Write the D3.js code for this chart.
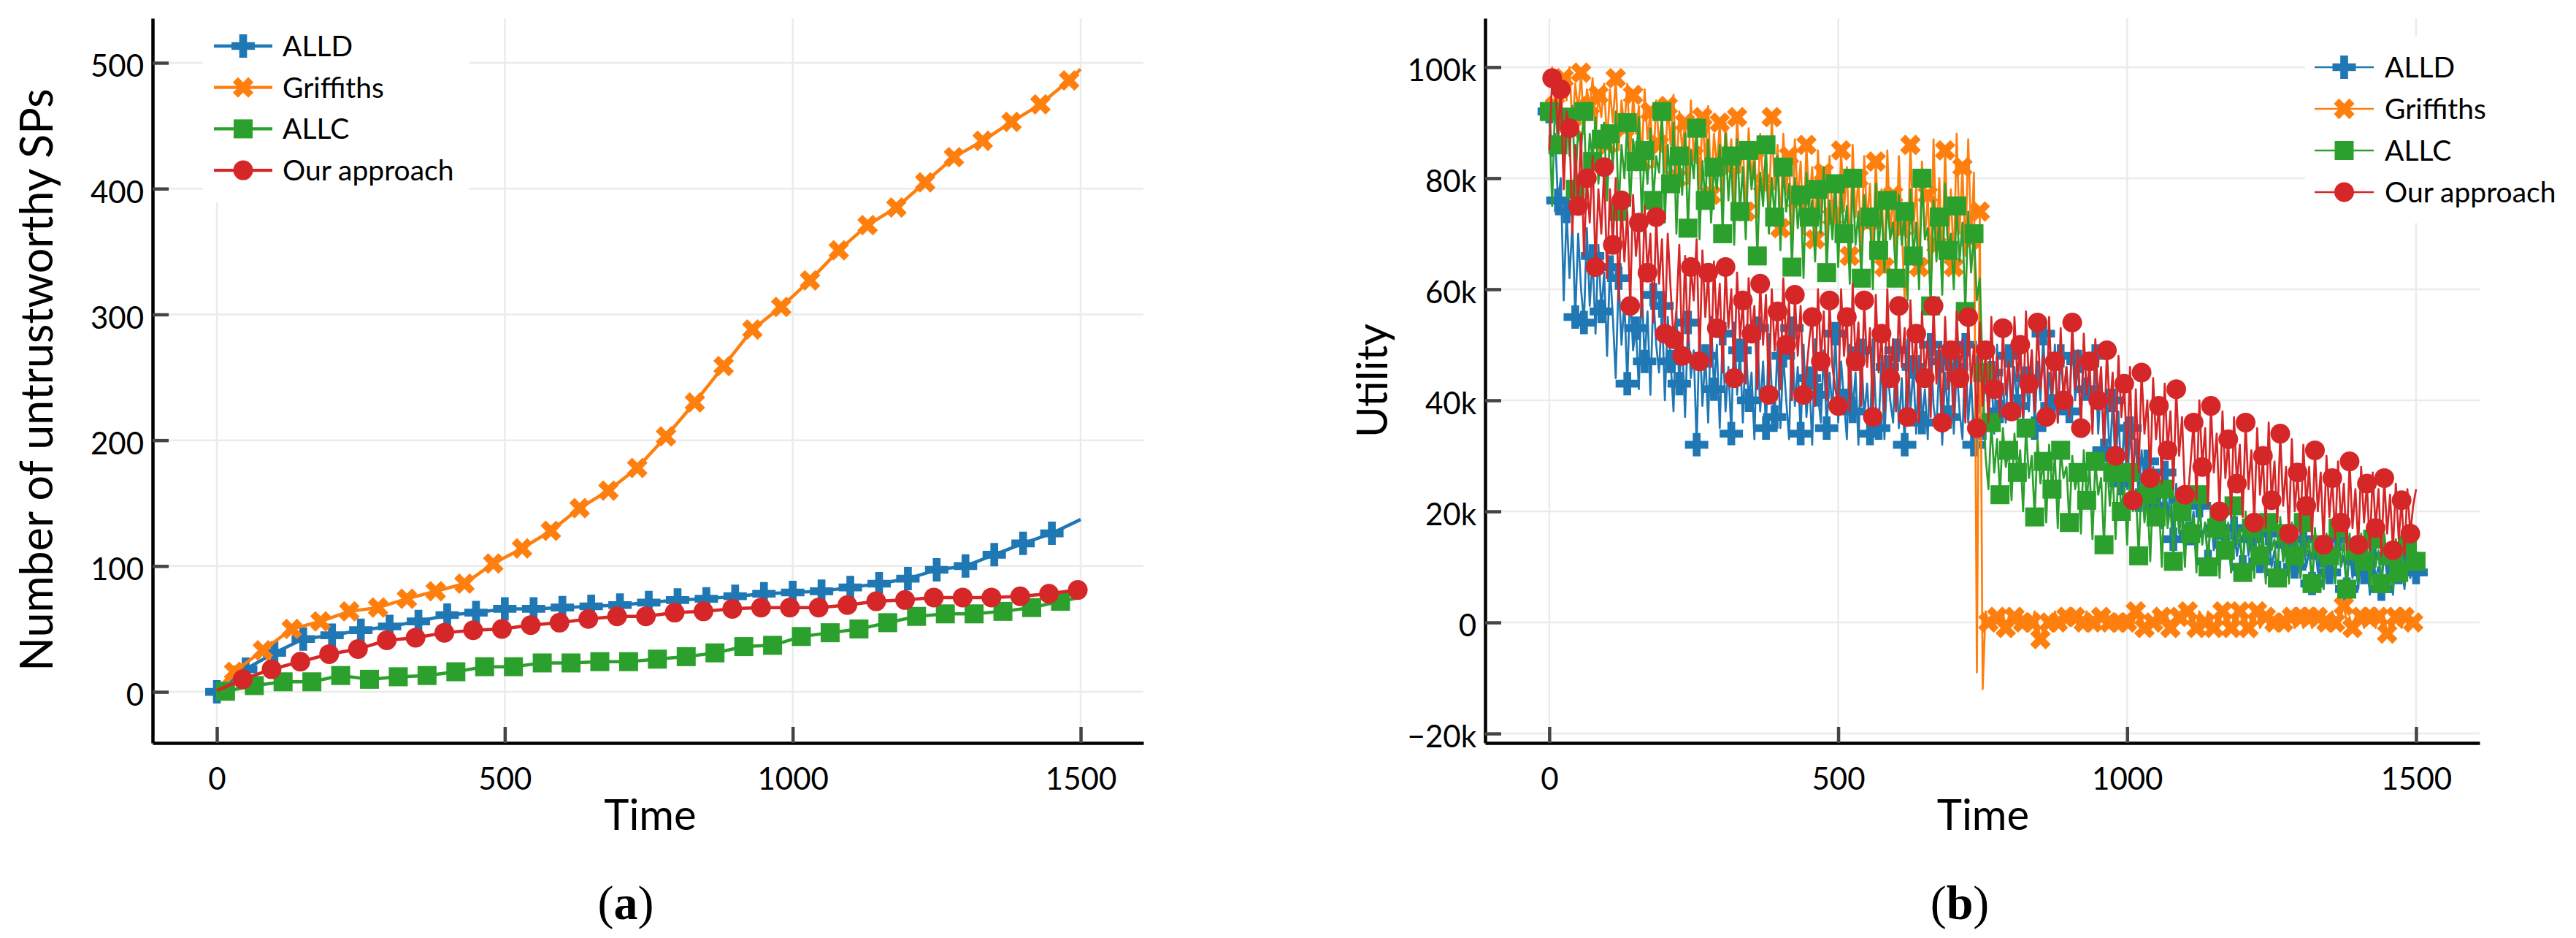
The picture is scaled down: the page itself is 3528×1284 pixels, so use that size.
<!DOCTYPE html>
<html>
<head>
<meta charset="utf-8">
<script src="https://cdn.jsdelivr.net/npm/d3@7"></script>
<style>
  body { margin: 0; background: #fff; }
  text { font-family: Lato, "Open Sans", sans-serif; fill: #000; }
  .caption { font-family: "Liberation Serif", "DejaVu Serif", serif; }
</style>
</head>
<body>
<svg id="chart" width="3528" height="1284"></svg>
<script>
const seriesNames = ["ALLD", "Griffiths", "ALLC", "Our approach"];
const seriesColors = ["#1f77b4", "#ff7f0e", "#2ca02c", "#d62728"];
const seriesShapes = ["cross", "x", "square", "circle"];

// (a) number of untrustworthy SPs, markers every 50 steps with an offset per series
const untrustOffset = [0, 30, 15, 45];
const untrustStart = [0, 2, 0, 1];
const untrustEnd = [137, 495, 75, 81];
const untrustAlld = [0, 18, 31, 42, 45, 49, 52, 56, 61, 63, 66, 66, 67, 68, 69, 71, 73, 74, 76, 78, 79, 80, 83, 86, 90, 97, 100, 109, 118, 126];
const untrustGriffiths = [16, 33, 50, 56, 64, 67, 74, 80, 86, 102, 114, 128, 146, 160, 178, 203, 230, 259, 288, 306, 327, 351, 371, 385, 405, 425, 438, 453, 467, 486];
const untrustAllc = [0.5, 5, 8, 8, 13, 10, 12, 13, 16, 20, 20, 23, 23, 24, 24, 26, 28, 31, 36, 37, 44, 47, 50, 55, 60, 62, 62, 64, 67, 72];
const untrustOurs = [10, 18, 24, 30, 34, 41, 43, 47, 49, 50, 53, 55, 58, 60, 60, 63, 64, 66, 67, 67, 67, 69, 72, 73, 75, 75, 75, 76, 78, 81];

// (b) utility in thousands, one value every 5 time steps (0..1500)
const utilityStep = 5;
const utilityMarkEvery = 3;
const utilityMarkOffset = [0, 2, 0, 1];
const utilityAlld = [
  92, 84, 88, 76, 80, 58, 74, 62, 72, 55, 70, 60, 54, 71, 57, 66, 52, 68, 56, 63,
  48, 64, 55, 44, 62, 50, 58, 43, 60, 49, 53, 42, 61, 47, 56, 41, 59, 50, 45, 57,
  40, 55, 47, 38, 56, 43, 51, 37, 54, 44, 49, 32, 53, 39, 48, 36, 55, 42, 50, 35,
  52, 38, 46, 34, 54, 41, 49, 36, 51, 40, 45, 33, 53, 38, 47, 35, 52, 42, 37, 50,
  35, 48, 40, 33, 53, 39, 46, 34, 50, 37, 44, 32, 51, 41, 36, 49, 35, 45, 38, 52,
  36, 47, 40, 33, 50, 38, 45, 32, 49, 37, 43, 34, 51, 39, 35, 48, 33, 46, 40, 36,
  49, 35, 44, 32, 51, 38, 46, 34, 48, 36, 42, 33, 50, 39, 35, 47, 32, 45, 37, 49,
  34, 46, 38, 33, 50, 36, 44, 32, 48, 39, 35, 47, 37, 45, 34, 50, 38, 43, 36, 48,
  37, 46, 39, 51, 36, 44, 38, 49, 35, 47, 40, 52, 37, 45, 39, 50, 36, 48, 41, 46,
  38, 51, 40, 47, 36, 49, 42, 45, 35, 48, 34, 44, 31, 42, 29, 40, 27, 38, 25, 36,
  24, 35, 27, 33, 22, 31, 25, 29, 19, 28, 21, 26, 17, 27, 19, 24, 15, 25, 17, 22,
  14, 23, 16, 20, 12, 21, 15, 18, 11, 19, 13, 17, 10, 18, 14, 16, 9, 17, 12, 15,
  10, 17, 12, 15, 9, 18, 11, 14, 8, 16, 10, 13, 9, 17, 11, 14, 8, 15, 10, 13,
  8, 15, 10, 13, 7, 14, 9, 12, 6, 14, 9, 11, 7, 15, 10, 12, 6, 13, 8, 11,
  6, 13, 9, 11, 5, 12, 8, 10, 6, 13, 8, 11, 5, 12, 9, 10, 6, 12, 8, 11,
  9
];
const utilityGriffiths = [
  97, 100, 93, 99, 90, 98, 94, 100, 89, 97, 92, 99, 88, 96, 93, 98, 87, 95, 91, 97,
  86, 96, 90, 98, 85, 94, 89, 97, 84, 95, 88, 93, 83, 96, 87, 92, 82, 94, 86, 91,
  81, 93, 86, 95, 80, 92, 85, 90, 79, 94, 84, 89, 78, 91, 83, 93, 77, 88, 82, 90,
  76, 90, 82, 87, 75, 91, 81, 86, 74, 89, 80, 85, 73, 88, 79, 84, 72, 91, 78, 86,
  71, 88, 77, 84, 67, 87, 76, 83, 70, 86, 75, 82, 69, 85, 74, 81, 68, 84, 73, 80,
  68, 85, 74, 82, 66, 86, 73, 80, 67, 84, 72, 79, 65, 83, 71, 78, 64, 85, 70, 77,
  66, 84, 71, 58, 65, 86, 70, 79, 64, 83, 69, 77, 63, 87, 68, 80, 65, 85, 67, 78,
  64, 88, 70, 82, 66, 87, 69, 81, -9, 74, -12, 2, 0, 1, -1, 1, 0, 2, -1, 1,
  0, 1, -1, 2, 0, 1, -1, 0, 2, 0, -3, -1, 1, 0, -1, 2, 0, 1, -1, 1,
  2, 0, 1, -1, 1, 0, 2, -1, 0, 1, -1, 1, 0, 2, 0, -1, 1, 0, 1, -1,
  0, 1, -1, 2, 0, 1, -1, -2, 1, 0, 2, -1, 1, 0, 1, -1, 0, 2, 1, 0,
  1, 2, 0, 1, -1, 2, 1, 0, 2, 1, -1, 1, 0, 2, 0, 1, -1, 1, 0, 2,
  0, 1, -1, 1, 0, 2, -1, 0, 1, -1, 1, 0, 1, -1, 0, 2, 0, 1, -1, 0,
  1, -1, 0, 1, -1, 0, 1, 0, 2, 0, 1, 2, 0, 1, 1, 3, 0, 1, -1, 1,
  0, 1, -1, 0, 1, 0, -1, 1, 0, 1, -2, 0, -1, 1, 0, -1, 1, 0, -1, 0,
  0
];
const utilityAllc = [
  92, 75, 94, 86, 95, 80, 91, 84, 93, 78, 89, 85, 92, 77, 88, 83, 91, 79, 87, 90,
  76, 88, 82, 92, 74, 86, 80, 90, 75, 87, 83, 91, 73, 85, 79, 89, 76, 84, 81, 92,
  72, 86, 79, 90, 70, 84, 77, 88, 71, 85, 80, 89, 69, 83, 76, 87, 72, 82, 78, 86,
  70, 88, 76, 84, 68, 87, 74, 82, 69, 85, 78, 83, 66, 81, 75, 86, 70, 80, 73, 84,
  67, 82, 74, 79, 64, 80, 71, 77, 62, 81, 73, 76, 65, 78, 70, 82, 63, 76, 69, 79,
  64, 78, 70, 75, 61, 80, 68, 74, 62, 77, 71, 73, 60, 79, 67, 75, 63, 76, 69, 72,
  62, 77, 68, 74, 58, 78, 66, 72, 60, 80, 69, 71, 57, 76, 65, 73, 59, 79, 67, 70,
  60, 75, 65, 72, 56, 74, 63, 70, 58, 62, 45, 30, 24, 36, 27, 33, 23, 35, 28, 31,
  22, 34, 27, 31, 20, 35, 26, 30, 19, 33, 25, 29, 18, 32, 24, 30, 17, 31, 26, 28,
  18, 30, 24, 27, 16, 31, 22, 28, 15, 29, 23, 26, 14, 30, 21, 27, 15, 28, 20, 25,
  14, 27, 20, 24, 12, 26, 18, 23, 11, 25, 19, 22, 10, 24, 17, 21, 11, 23, 16, 20,
  10, 22, 16, 19, 9, 23, 14, 18, 10, 21, 15, 17, 8, 20, 13, 18, 9, 21, 14, 17,
  9, 20, 13, 17, 8, 19, 12, 16, 7, 18, 13, 15, 8, 19, 11, 16, 7, 18, 12, 15,
  8, 18, 12, 15, 7, 17, 11, 14, 6, 16, 12, 14, 7, 17, 10, 15, 6, 16, 11, 13,
  7, 16, 11, 14, 6, 15, 10, 13, 7, 16, 11, 12, 6, 15, 9, 13, 7, 14, 10, 12,
  11
];
const utilityOurs = [
  85, 98, 97, 88, 96, 78, 92, 89, 70, 86, 75, 88, 66, 80, 72, 84, 64, 78, 70, 82,
  62, 78, 68, 80, 58, 76, 65, 74, 57, 77, 66, 72, 55, 75, 63, 70, 54, 73, 61, 69,
  52, 70, 60, 51, 56, 68, 48, 66, 50, 64, 58, 69, 47, 67, 55, 63, 46, 65, 53, 61,
  45, 64, 53, 60, 44, 63, 51, 58, 43, 62, 52, 57, 42, 61, 50, 59, 41, 60, 49, 56,
  42, 62, 50, 58, 40, 59, 48, 57, 41, 45, 51, 55, 39, 60, 47, 56, 40, 58, 46, 42,
  39, 60, 48, 55, 38, 61, 47, 54, 39, 58, 46, 53, 37, 59, 45, 52, 38, 60, 44, 51,
  38, 57, 46, 53, 37, 58, 45, 52, 36, 56, 44, 51, 37, 57, 43, 50, 36, 55, 42, 49,
  37, 56, 44, 51, 36, 55, 43, 50, 35, 54, 39, 49, 36, 55, 42, 48, 37, 53, 41, 47,
  38, 55, 44, 50, 37, 56, 43, 49, 38, 54, 42, 48, 37, 55, 41, 47, 36, 53, 40, 46,
  37, 54, 42, 49, 35, 52, 41, 47, 34, 51, 40, 46, 32, 49, 38, 45, 30, 48, 37, 43,
  29, 46, 22, 42, 27, 45, 34, 40, 26, 44, 33, 39, 25, 43, 31, 38, 24, 42, 30, 37,
  23, 22, 29, 36, 22, 40, 28, 35, 21, 39, 27, 34, 20, 38, 26, 33, 19, 37, 25, 32,
  19, 36, 24, 31, 18, 35, 23, 30, 17, 36, 22, 29, 18, 34, 21, 28, 16, 33, 20, 27,
  16, 32, 21, 28, 15, 31, 20, 27, 14, 30, 19, 26, 15, 29, 18, 25, 13, 29, 17, 24,
  14, 28, 18, 25, 13, 27, 17, 24, 12, 26, 16, 23, 13, 25, 15, 22, 12, 24, 16, 21,
  24
];

const timeTicks = [0, 500, 1000, 1500];
const untrustTicks = [0, 100, 200, 300, 400, 500];
const utilityTicks = [-20, 0, 20, 40, 60, 80, 100];

const svg = d3.select("#chart");

const symbolTypes = {
  cross: d3.symbolCross,
  x: d3.symbolCross,
  square: d3.symbolSquare,
  circle: d3.symbolCircle,
};
const markerSizes = { cross: 569, x: 500, square: 676, circle: 573 };

function markerPath(shape) {
  return d3.symbol(symbolTypes[shape], markerSizes[shape])();
}

function drawMarkers(g, pts, shape, color) {
  const rot = shape === "x" ? " rotate(45)" : "";
  g.selectAll(null)
    .data(pts)
    .join("path")
    .attr("d", markerPath(shape))
    .attr("transform", (p) => `translate(${p[0]},${p[1]})${rot}`)
    .attr("fill", color);
}

function drawPanel(cfg) {
  const { x, y, xTicks, yTicks, yFormat } = cfg;
  const [x0, x1] = x.range();
  const [y0, y1] = y.range();
  const g = svg.append("g");

  // grid
  g.append("g")
    .selectAll("line")
    .data(xTicks)
    .join("line")
    .attr("x1", (d) => x(d))
    .attr("x2", (d) => x(d))
    .attr("y1", y1)
    .attr("y2", y0)
    .attr("stroke", "#ebebeb")
    .attr("stroke-width", 2.5);
  g.append("g")
    .selectAll("line")
    .data(yTicks)
    .join("line")
    .attr("x1", x0)
    .attr("x2", x1)
    .attr("y1", (d) => y(d))
    .attr("y2", (d) => y(d))
    .attr("stroke", "#ebebeb")
    .attr("stroke-width", 2.5);

  // series
  cfg.series.forEach((s, i) => {
    const sg = g.append("g");
    sg.append("path")
      .attr("d", d3.line().x((p) => x(p[0])).y((p) => y(p[1]))(s.line))
      .attr("fill", "none")
      .attr("stroke", seriesColors[i])
      .attr("stroke-width", cfg.lineWidth)
      .attr("stroke-linejoin", "round");
    drawMarkers(sg, s.marks.map((p) => [x(p[0]), y(p[1])]), seriesShapes[i], seriesColors[i]);
  });

  // axes, ticks point inward
  const xAxis = g.append("g")
    .attr("transform", `translate(0,${y0})`)
    .call(d3.axisBottom(x).tickValues(xTicks).tickFormat((d) => String(d)).tickSize(-22).tickSizeOuter(0).tickPadding(34));
  const yAxis = g.append("g")
    .attr("transform", `translate(${x0},0)`)
    .call(d3.axisLeft(y).tickValues(yTicks).tickFormat(yFormat).tickSize(-22).tickSizeOuter(0).tickPadding(12));
  [xAxis, yAxis].forEach((a) => {
    a.select(".domain").attr("stroke", "#000").attr("stroke-width", 4.5);
    a.selectAll(".tick line").attr("stroke", "#444").attr("stroke-width", 4.5);
    a.selectAll(".tick text").attr("font-size", 42).attr("font-family", null).attr("fill", "#000");
  });
  yAxis.selectAll(".tick text").attr("dy", "0.45em");

  // titles
  g.append("text")
    .attr("x", (x0 + x1) / 2 + cfg.xTitleShift)
    .attr("y", 1136)
    .attr("text-anchor", "middle")
    .attr("font-size", 58)
    .text("Time");
  g.append("text")
    .attr("transform", `translate(${cfg.yTitleX},${cfg.yTitleY}) rotate(-90)`)
    .attr("text-anchor", "middle")
    .attr("font-size", cfg.yTitleSize)
    .text(cfg.yTitle);

  // legend
  const lg = cfg.legend;
  g.append("rect")
    .attr("x", lg.box[0])
    .attr("y", lg.box[1])
    .attr("width", lg.box[2] - lg.box[0])
    .attr("height", lg.box[3] - lg.box[1])
    .attr("fill", "#fff");
  seriesNames.forEach((name, i) => {
    const ly = lg.top + i * lg.gap;
    g.append("line")
      .attr("x1", lg.x1).attr("x2", lg.x2)
      .attr("y1", ly).attr("y2", ly)
      .attr("stroke", seriesColors[i])
      .attr("stroke-width", lg.lineWidth);
    drawMarkers(g, [[(lg.x1 + lg.x2) / 2, ly]], seriesShapes[i], seriesColors[i]);
    g.append("text")
      .attr("x", lg.tx)
      .attr("y", ly)
      .attr("dy", "0.36em")
      .attr("font-size", lg.fontSize)
      .text(name);
  });

  // caption
  const cap = g.append("text")
    .attr("class", "caption")
    .attr("x", cfg.captionX)
    .attr("y", 1258)
    .attr("text-anchor", "middle")
    .attr("font-size", 66);
  cap.append("tspan").text("(");
  cap.append("tspan").attr("font-weight", "bold").text(cfg.captionLetter);
  cap.append("tspan").text(")");
}

// panel (a)
const untrustValues = [untrustAlld, untrustGriffiths, untrustAllc, untrustOurs];
const untrustSeries = untrustValues.map((vals, i) => {
  const marks = vals.map((v, k) => [untrustOffset[i] + 50 * k, v]);
  const line = [[0, untrustStart[i]], ...marks, [1500, untrustEnd[i]]];
  if (untrustOffset[i] === 0) line.shift();
  return { line, marks };
});

drawPanel({
  x: d3.scaleLinear([-111.6, 1609], [209, 1566]),
  y: d3.scaleLinear([-40.6, 535.4], [1017, 25]),
  xTicks: timeTicks,
  yTicks: untrustTicks,
  yFormat: (d) => String(d),
  series: untrustSeries,
  lineWidth: 4.5,
  xTitleShift: 3,
  yTitle: "Number of untrustworthy SPs",
  yTitleX: 72,
  yTitleY: 520,
  yTitleSize: 61,
  legend: { box: [278, 25, 642, 277], top: 63, gap: 56.7, x1: 293, x2: 373, tx: 387, fontSize: 39, lineWidth: 4.3 },
  captionX: 857,
  captionLetter: "a",
});

// panel (b)
const utilityValues = [utilityAlld, utilityGriffiths, utilityAllc, utilityOurs];
const utilitySeries = utilityValues.map((vals, i) => {
  const line = vals.map((v, k) => [k * utilityStep, v]);
  const marks = line.filter((p, k) => k % utilityMarkEvery === utilityMarkOffset[i]);
  return { line, marks };
});

drawPanel({
  x: d3.scaleLinear([-111, 1610], [2034, 3396]),
  y: d3.scaleLinear([-21.7, 108.8], [1017, 25]),
  xTicks: timeTicks,
  yTicks: utilityTicks,
  yFormat: (d) => (d === 0 ? "0" : (d < 0 ? "\u2212" : "") + Math.abs(d) + "k"),
  series: utilitySeries,
  lineWidth: 2.7,
  xTitleShift: 1,
  yTitle: "Utility",
  yTitleX: 1900,
  yTitleY: 521,
  yTitleSize: 58,
  legend: { box: [3157, 50, 3528, 305], top: 92, gap: 57, x1: 3170, x2: 3251, tx: 3266, fontSize: 39, lineWidth: 2.7 },
  captionX: 2684,
  captionLetter: "b",
});
</script>
</body>
</html>
